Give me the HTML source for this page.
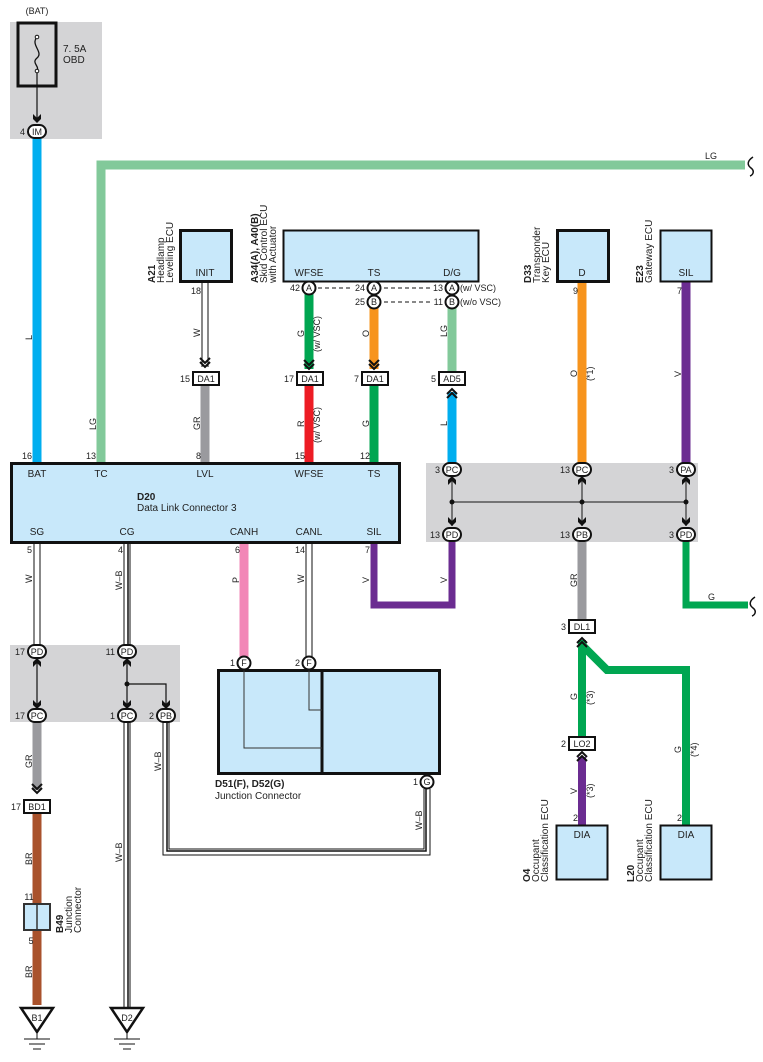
<!DOCTYPE html>
<html><head><meta charset="utf-8"><style>
html,body{margin:0;padding:0;background:#fff}
svg{display:block}
text{font-family:"Liberation Sans",Arial,sans-serif;fill:#222}
</style></head><body>
<svg width="763" height="1062" viewBox="0 0 763 1062" xmlns="http://www.w3.org/2000/svg">
<defs>
<g id="dn"><path d="M-5,-7 L0,-2 L5,-7 M-5,-3 L0,2 L5,-3" fill="none" stroke="#111" stroke-width="2"/></g>
<g id="up"><path d="M-5,7 L0,2 L5,7 M-5,3 L0,-2 L5,3" fill="none" stroke="#111" stroke-width="2"/></g>
<g id="ah"><path d="M-4,-5 L0,-1 L4,-5 L4,0 L0,4 L-4,0 Z" fill="#111"/></g>
<g id="au"><path d="M-4,5 L0,1 L4,5 L4,0 L0,-4 L-4,0 Z" fill="#111"/></g>
</defs>
<style>
.sm{font-size:9px}
.md{font-size:10px}
.b{font-weight:bold}
</style>

<!-- grey areas -->
<rect x="10" y="22" width="92" height="117" fill="#d4d4d6"/>
<rect x="426" y="463" width="272" height="79" fill="#d4d4d6"/>
<rect x="10" y="645" width="170" height="77" fill="#d4d4d6"/>

<!-- fuse -->
<text x="37" y="14" class="sm" text-anchor="middle">(BAT)</text>
<rect x="18" y="23" width="38" height="63" fill="none" stroke="#111" stroke-width="3"/>
<path d="M37,37 C30,45 44,52 37,58 C31,63 40,66 37,71" fill="none" stroke="#111" stroke-width="1.3"/>
<circle cx="37" cy="37" r="1.8" fill="#fff" stroke="#111"/>
<circle cx="37" cy="71" r="1.8" fill="#fff" stroke="#111"/>
<text x="63" y="52" class="md">7. 5A</text>
<text x="63" y="63" class="md">OBD</text>
<line x1="37" y1="73" x2="37" y2="120" stroke="#111" stroke-width="1.2"/>
<use href="#ah" x="37" y="119"/>

<!-- wires colored -->
<g fill="none" stroke-linecap="butt">
<line x1="37" y1="138" x2="37" y2="463" stroke="#00aeef" stroke-width="9"/>
<polyline points="101,463 101,165 745,165" stroke="#82c99a" stroke-width="9"/>
<line x1="205" y1="385" x2="205" y2="463" stroke="#9a9a9e" stroke-width="9"/>
<line x1="309" y1="294" x2="309" y2="369" stroke="#00a651" stroke-width="9"/>
<line x1="309" y1="385" x2="309" y2="463" stroke="#ed1c24" stroke-width="9"/>
<line x1="374" y1="308" x2="374" y2="369" stroke="#f7941d" stroke-width="9"/>
<line x1="374" y1="385" x2="374" y2="463" stroke="#00a651" stroke-width="9"/>
<line x1="452" y1="308" x2="452" y2="372" stroke="#82c99a" stroke-width="9"/>
<line x1="452" y1="392" x2="452" y2="463" stroke="#00aeef" stroke-width="9"/>
<line x1="582" y1="281" x2="582" y2="463" stroke="#f7941d" stroke-width="9"/>
<line x1="686" y1="281" x2="686" y2="463" stroke="#6b2c91" stroke-width="9"/>
<polyline points="374,543 374,605 452,605 452,542" stroke="#6b2c91" stroke-width="7"/>
<line x1="582" y1="542" x2="582" y2="620" stroke="#9a9a9e" stroke-width="9"/>
<polyline points="686,542 686,605 748,605" stroke="#00a651" stroke-width="7"/>
<line x1="582" y1="640" x2="582" y2="737" stroke="#00a651" stroke-width="8"/>
<polyline points="582,645 607,670 686,670 686,825" stroke="#00a651" stroke-width="8"/>
<line x1="582" y1="757" x2="582" y2="825" stroke="#6b2c91" stroke-width="8"/>
<line x1="244" y1="543" x2="244" y2="657" stroke="#f287b7" stroke-width="9"/>
<line x1="37" y1="722" x2="37" y2="790" stroke="#9a9a9e" stroke-width="9"/>
<line x1="37" y1="813" x2="37" y2="1005" stroke="#a9522c" stroke-width="9"/>
</g>

<!-- white wires -->
<g fill="none">
<line x1="205" y1="281" x2="205" y2="367" stroke="#111" stroke-width="7"/>
<line x1="205" y1="281" x2="205" y2="367" stroke="#fff" stroke-width="5"/>
<line x1="37" y1="543" x2="37" y2="645" stroke="#111" stroke-width="7"/>
<line x1="37" y1="543" x2="37" y2="645" stroke="#fff" stroke-width="5"/>
<line x1="309" y1="543" x2="309" y2="657" stroke="#111" stroke-width="7"/>
<line x1="309" y1="543" x2="309" y2="657" stroke="#fff" stroke-width="5"/>
<g id="wb">
<line x1="127" y1="543" x2="127" y2="645" stroke="#111" stroke-width="7"/>
<line x1="127" y1="543" x2="127" y2="645" stroke="#fff" stroke-width="5"/>
<line x1="128" y1="543" x2="128" y2="645" stroke="#111" stroke-width="1.5"/>
</g>
<line x1="127" y1="722" x2="127" y2="1008" stroke="#111" stroke-width="7"/>
<line x1="127" y1="722" x2="127" y2="1008" stroke="#fff" stroke-width="5"/>
<line x1="128" y1="722" x2="128" y2="1008" stroke="#111" stroke-width="1.5"/>
<polyline points="166,722 166,852 427,852 427,789" stroke="#111" stroke-width="7"/>
<polyline points="166,722 166,852 427,852 427,789" stroke="#fff" stroke-width="5"/>
<polyline points="167,722 167,851 426,851 426,789" stroke="#111" stroke-width="1.5"/>
</g>
<use href="#dn" x="205" y="365"/>
<use href="#dn" x="309" y="367"/>
<use href="#dn" x="374" y="367"/>
<use href="#up" x="452" y="391"/>
<use href="#up" x="582" y="640"/>
<use href="#up" x="582" y="754"/>
<use href="#dn" x="37" y="791"/>

<!-- D20 -->
<rect x="11.5" y="463.5" width="388" height="79" fill="#c8e8fa" stroke="#111" stroke-width="3"/>
<g class="md" text-anchor="middle">
<text x="37" y="477">BAT</text><text x="101" y="477">TC</text><text x="205" y="477">LVL</text><text x="309" y="477">WFSE</text><text x="374" y="477">TS</text>
<text x="37" y="535">SG</text><text x="127" y="535">CG</text><text x="244" y="535">CANH</text><text x="309" y="535">CANL</text><text x="374" y="535">SIL</text>
</g>
<text x="137" y="500" class="md b">D20</text>
<text x="137" y="511" class="md">Data Link Connector 3</text>
<g class="sm" text-anchor="end">
<text x="32" y="459">16</text><text x="96" y="459">13</text><text x="201" y="459">8</text><text x="305" y="459">15</text><text x="370" y="459">12</text>
<text x="32" y="553">5</text><text x="123" y="553">4</text><text x="240" y="553">6</text><text x="305" y="553">14</text><text x="370" y="553">7</text>
</g>

<!-- A21 -->
<rect x="180.5" y="230.5" width="51" height="51" fill="#c8e8fa" stroke="#111" stroke-width="3"/>
<text x="205" y="276" class="md" text-anchor="middle">INIT</text>
<text x="201" y="294" class="sm" text-anchor="end">18</text>
<g transform="translate(155,283) rotate(-90)" class="md"><text class="b">A21</text><text y="9">Headlamp</text><text y="18">Leveling ECU</text></g>

<!-- A34 -->
<rect x="283.5" y="230.5" width="195" height="51" fill="#c8e8fa" stroke="#111" stroke-width="2"/>
<g class="md" text-anchor="middle"><text x="309" y="276">WFSE</text><text x="374" y="276">TS</text><text x="452" y="276">D/G</text></g>
<g transform="translate(258,283) rotate(-90)" class="md"><text class="b">A34(A), A40(B)</text><text y="9">Skid Control ECU</text><text y="18">with Actuator</text></g>
<g stroke="#111" stroke-width="1" stroke-dasharray="4,3"><line x1="318" y1="288" x2="350" y2="288"/><line x1="384" y1="288" x2="430" y2="288"/><line x1="384" y1="302" x2="430" y2="302"/></g>
<g fill="#fff" stroke="#111" stroke-width="2">
<circle cx="309" cy="288" r="6.5"/><circle cx="374" cy="288" r="6.5"/><circle cx="374" cy="302" r="6.5"/><circle cx="452" cy="288" r="6.5"/><circle cx="452" cy="302" r="6.5"/>
</g>
<g class="sm" text-anchor="middle"><text x="309" y="291">A</text><text x="374" y="291">A</text><text x="374" y="305">B</text><text x="452" y="291">A</text><text x="452" y="305">B</text></g>
<g class="sm" text-anchor="end"><text x="300" y="291">42</text><text x="365" y="291">24</text><text x="365" y="305">25</text><text x="443" y="291">13</text><text x="443" y="305">11</text></g>
<text x="460" y="291" class="sm">(w/ VSC)</text><text x="460" y="305" class="sm">(w/o VSC)</text>

<!-- D33, E23 -->
<rect x="557.5" y="230.5" width="51" height="51" fill="#c8e8fa" stroke="#111" stroke-width="3"/>
<text x="582" y="276" class="md" text-anchor="middle">D</text>
<text x="578" y="294" class="sm" text-anchor="end">9</text>
<g transform="translate(531,283) rotate(-90)" class="md"><text class="b">D33</text><text y="9">Transponder</text><text y="18">Key ECU</text></g>
<rect x="660.5" y="230.5" width="51" height="51" fill="#c8e8fa" stroke="#111" stroke-width="2"/>
<text x="686" y="276" class="md" text-anchor="middle">SIL</text>
<text x="682" y="294" class="sm" text-anchor="end">7</text>
<g transform="translate(643,283) rotate(-90)" class="md"><text class="b">E23</text><text y="9">Gateway ECU</text></g>

<!-- inline connectors -->
<g fill="#fff" stroke="#111" stroke-width="2">
<rect x="193" y="372" width="26" height="13"/><rect x="297" y="372" width="26" height="13"/><rect x="362" y="372" width="26" height="13"/><rect x="439" y="372" width="26" height="13"/>
<rect x="569" y="620" width="26" height="13"/><rect x="569" y="737" width="26" height="13"/><rect x="24" y="800" width="26" height="13"/>
</g>
<g class="sm" text-anchor="middle"><text x="206" y="382">DA1</text><text x="310" y="382">DA1</text><text x="375" y="382">DA1</text><text x="452" y="382">AD5</text><text x="582" y="630">DL1</text><text x="582" y="747">LO2</text><text x="37" y="810">BD1</text></g>
<g class="sm" text-anchor="end"><text x="190" y="382">15</text><text x="294" y="382">17</text><text x="359" y="382">7</text><text x="436" y="382">5</text><text x="566" y="630">3</text><text x="566" y="747">2</text><text x="21" y="810">17</text></g>

<!-- splice lines right -->
<g stroke="#555" stroke-width="1.5">
<line x1="452" y1="476" x2="452" y2="526"/><line x1="582" y1="476" x2="582" y2="526"/><line x1="686" y1="476" x2="686" y2="526"/><line x1="452" y1="502" x2="686" y2="502"/>
</g>
<g fill="#111"><circle cx="452" cy="502" r="2.5"/><circle cx="582" cy="502" r="2.5"/><circle cx="686" cy="502" r="2.5"/></g>
<use href="#au" x="452" y="480"/><use href="#au" x="582" y="480"/><use href="#au" x="686" y="480"/>
<use href="#ah" x="452" y="522"/><use href="#ah" x="582" y="522"/><use href="#ah" x="686" y="522"/>

<!-- splice lines left -->
<g stroke="#111" stroke-width="1.2" fill="none">
<line x1="37" y1="658" x2="37" y2="708"/><line x1="127" y1="658" x2="127" y2="708"/><polyline points="127,684 166,684 166,708"/>
</g>
<circle cx="127" cy="684" r="2.5" fill="#111"/>
<use href="#au" x="37" y="662"/><use href="#au" x="127" y="662"/>
<use href="#ah" x="37" y="705"/><use href="#ah" x="127" y="705"/><use href="#ah" x="166" y="705"/>

<!-- oval pins -->
<g fill="#fff" stroke="#111" stroke-width="2">
<rect x="28" y="125" width="18" height="13" rx="6.5"/>
<rect x="443" y="463" width="18" height="13" rx="6.5"/><rect x="573" y="463" width="18" height="13" rx="6.5"/><rect x="677" y="463" width="18" height="13" rx="6.5"/>
<rect x="443" y="528" width="18" height="13" rx="6.5"/><rect x="573" y="528" width="18" height="13" rx="6.5"/><rect x="677" y="528" width="18" height="13" rx="6.5"/>
<rect x="28" y="645" width="18" height="13" rx="6.5"/><rect x="118" y="645" width="18" height="13" rx="6.5"/>
<rect x="28" y="709" width="18" height="13" rx="6.5"/><rect x="118" y="709" width="18" height="13" rx="6.5"/><rect x="157" y="709" width="18" height="13" rx="6.5"/>
</g>
<g class="sm" text-anchor="middle">
<text x="37" y="135">IM</text>
<text x="452" y="473">PC</text><text x="582" y="473">PC</text><text x="686" y="473">PA</text>
<text x="452" y="538">PD</text><text x="582" y="538">PB</text><text x="686" y="538">PD</text>
<text x="37" y="655">PD</text><text x="127" y="655">PD</text><text x="37" y="719">PC</text><text x="127" y="719">PC</text><text x="166" y="719">PB</text>
</g>
<g class="sm" text-anchor="end">
<text x="25" y="135">4</text>
<text x="440" y="473">3</text><text x="570" y="473">13</text><text x="674" y="473">3</text>
<text x="440" y="538">13</text><text x="570" y="538">13</text><text x="674" y="538">3</text>
<text x="25" y="655">17</text><text x="115" y="655">11</text><text x="25" y="719">17</text><text x="115" y="719">1</text><text x="154" y="719">2</text>
</g>

<!-- junction connector -->
<rect x="218.5" y="670.5" width="221" height="103" fill="#c8e8fa" stroke="#111" stroke-width="3"/>
<line x1="322" y1="670" x2="322" y2="774" stroke="#111" stroke-width="3"/>
<g stroke="#333" stroke-width="1" fill="none"><polyline points="244,670 244,748 322,748"/><polyline points="309,670 309,710 322,710"/></g>
<g fill="#fff" stroke="#111" stroke-width="2"><circle cx="244" cy="663" r="6.5"/><circle cx="309" cy="663" r="6.5"/><circle cx="427" cy="782" r="6.5"/></g>
<g class="sm" text-anchor="middle"><text x="244" y="666">F</text><text x="309" y="666">F</text><text x="427" y="785">G</text></g>
<g class="sm" text-anchor="end"><text x="235" y="666">1</text><text x="300" y="666">2</text><text x="418" y="785">1</text></g>
<text x="215" y="787" class="md b">D51(F), D52(G)</text>
<text x="215" y="799" class="md">Junction Connector</text>

<!-- O4 / L20 -->
<rect x="556.5" y="825.5" width="51" height="54" fill="#c8e8fa" stroke="#111" stroke-width="2"/>
<rect x="660.5" y="825.5" width="51" height="54" fill="#c8e8fa" stroke="#111" stroke-width="2"/>
<text x="582" y="838" class="md" text-anchor="middle">DIA</text><text x="686" y="838" class="md" text-anchor="middle">DIA</text>
<text x="578" y="821" class="sm" text-anchor="end">2</text><text x="682" y="821" class="sm" text-anchor="end">2</text>
<g transform="translate(530,882) rotate(-90)" class="md"><text class="b">O4</text><text y="9">Occupant</text><text y="18">Classification ECU</text></g>
<g transform="translate(634,882) rotate(-90)" class="md"><text class="b">L20</text><text y="9">Occupant</text><text y="18">Classification ECU</text></g>

<!-- B49 -->
<rect x="24" y="904" width="26" height="26" fill="#c8e8fa" stroke="#333" stroke-width="2"/>
<line x1="37" y1="904" x2="37" y2="930" stroke="#333" stroke-width="1.5"/>
<text x="29" y="900" class="sm" text-anchor="middle">11</text>
<text x="31" y="944" class="sm" text-anchor="middle">5</text>
<g transform="translate(63,933) rotate(-90)" class="md"><text class="b">B49</text><text y="9">Junction</text><text y="18">Connector</text></g>

<!-- grounds -->
<g fill="#fff" stroke="#111" stroke-width="2.5"><path d="M21,1008 L53,1008 L37,1032 Z"/><path d="M111,1008 L143,1008 L127,1032 Z"/></g>
<text x="37" y="1021" class="sm" text-anchor="middle">B1</text><text x="127" y="1021" class="sm" text-anchor="middle">D2</text>
<g stroke="#111" stroke-width="1"><line x1="37" y1="1032" x2="37" y2="1039"/><line x1="24" y1="1039" x2="50" y2="1039"/><line x1="29" y1="1044" x2="45" y2="1044"/><line x1="33" y1="1049" x2="41" y2="1049"/>
<line x1="127" y1="1032" x2="127" y2="1039"/><line x1="114" y1="1039" x2="140" y2="1039"/><line x1="119" y1="1044" x2="135" y2="1044"/><line x1="123" y1="1049" x2="131" y2="1049"/></g>

<!-- wave ends -->
<g fill="none" stroke="#111" stroke-width="1.5"><path d="M753,157 C747,161 747,165 751,168 C755,171 753,175 750,176"/><path d="M755,597 C749,601 749,605 753,608 C757,611 755,615 752,616"/></g>

<!-- wire labels (rotated) -->
<g class="sm">
<text transform="translate(32,340) rotate(-90)">L</text>
<text transform="translate(96,430) rotate(-90)">LG</text>
<text transform="translate(200,337) rotate(-90)">W</text>
<text transform="translate(200,430) rotate(-90)">GR</text>
<text transform="translate(304,337) rotate(-90)">G</text>
<text transform="translate(320,352) rotate(-90)">(w/ VSC)</text>
<text transform="translate(304,427) rotate(-90)">R</text>
<text transform="translate(320,443) rotate(-90)">(w/ VSC)</text>
<text transform="translate(369,337) rotate(-90)">O</text>
<text transform="translate(369,427) rotate(-90)">G</text>
<text transform="translate(447,337) rotate(-90)">LG</text>
<text transform="translate(447,426) rotate(-90)">L</text>
<text transform="translate(577,377) rotate(-90)">O</text>
<text transform="translate(593,381) rotate(-90)">(*1)</text>
<text transform="translate(681,377) rotate(-90)">V</text>
<text transform="translate(32,583) rotate(-90)">W</text>
<text transform="translate(122,590) rotate(-90)">W–B</text>
<text transform="translate(239,583) rotate(-90)">P</text>
<text transform="translate(304,583) rotate(-90)">W</text>
<text transform="translate(369,583) rotate(-90)">V</text>
<text transform="translate(447,583) rotate(-90)">V</text>
<text transform="translate(577,587) rotate(-90)">GR</text>
<text x="708" y="600">G</text>
<text transform="translate(577,700) rotate(-90)">G</text>
<text transform="translate(593,705) rotate(-90)">(*3)</text>
<text transform="translate(681,753) rotate(-90)">G</text>
<text transform="translate(697,757) rotate(-90)">(*4)</text>
<text transform="translate(577,794) rotate(-90)">V</text>
<text transform="translate(593,798) rotate(-90)">(*3)</text>
<text transform="translate(32,768) rotate(-90)">GR</text>
<text transform="translate(161,771) rotate(-90)">W–B</text>
<text transform="translate(422,830) rotate(-90)">W–B</text>
<text transform="translate(122,862) rotate(-90)">W–B</text>
<text transform="translate(32,865) rotate(-90)">BR</text>
<text transform="translate(32,978) rotate(-90)">BR</text>
</g>
<text x="705" y="159" class="sm">LG</text>
</svg>
</body></html>
